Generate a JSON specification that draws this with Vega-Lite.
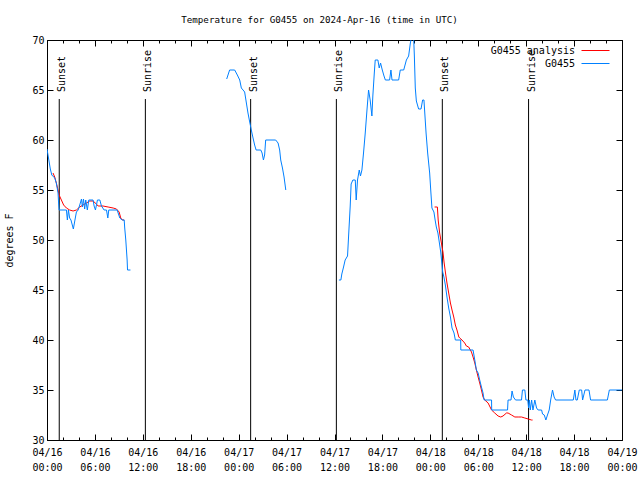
{
  "$schema": "https://vega.github.io/schema/vega-lite/v6.json",
  "width": 575,
  "height": 400,
  "autosize": {"type": "none"},
  "padding": {"left": 47, "top": 40, "right": 18, "bottom": 40},
  "background": "white",
  "title": {"text": "Temperature for G0455 on 2024-Apr-16 (time in UTC)", "font": "DejaVu Sans Mono", "fontSize": 9.2, "fontWeight": "normal", "color": "black", "anchor": "middle", "offset": 10, "dx": -15},
  "config": {
    "view": {"stroke": "black", "strokeWidth": 1},
    "axis": {"grid": false, "domain": false, "labelFont": "DejaVu Sans Mono", "labelFontSize": 10, "labelColor": "black", "tickColor": "black", "tickWidth": 1, "titleFont": "DejaVu Sans Mono", "titleFontSize": 10, "titleFontWeight": "normal", "titleColor": "black"}
  },
  "datasets": {
    "readings": [
      {"time": "2024-04-16T00:45:00Z", "temp": 56.7, "series": "G0455 analysis", "seg": "a"},
      {"time": "2024-04-16T00:58:00Z", "temp": 56.3, "series": "G0455 analysis", "seg": "a"},
      {"time": "2024-04-16T01:10:00Z", "temp": 55.7, "series": "G0455 analysis", "seg": "a"},
      {"time": "2024-04-16T01:23:00Z", "temp": 55.0, "series": "G0455 analysis", "seg": "a"},
      {"time": "2024-04-16T01:31:00Z", "temp": 54.5, "series": "G0455 analysis", "seg": "a"},
      {"time": "2024-04-16T01:48:00Z", "temp": 54.0, "series": "G0455 analysis", "seg": "a"},
      {"time": "2024-04-16T02:05:00Z", "temp": 53.5, "series": "G0455 analysis", "seg": "a"},
      {"time": "2024-04-16T02:26:00Z", "temp": 53.2, "series": "G0455 analysis", "seg": "a"},
      {"time": "2024-04-16T02:50:00Z", "temp": 53.0, "series": "G0455 analysis", "seg": "a"},
      {"time": "2024-04-16T03:16:00Z", "temp": 52.9, "series": "G0455 analysis", "seg": "a"},
      {"time": "2024-04-16T03:41:00Z", "temp": 53.0, "series": "G0455 analysis", "seg": "a"},
      {"time": "2024-04-16T04:06:00Z", "temp": 53.3, "series": "G0455 analysis", "seg": "a"},
      {"time": "2024-04-16T04:31:00Z", "temp": 53.5, "series": "G0455 analysis", "seg": "a"},
      {"time": "2024-04-16T04:56:00Z", "temp": 53.7, "series": "G0455 analysis", "seg": "a"},
      {"time": "2024-04-16T05:21:00Z", "temp": 53.9, "series": "G0455 analysis", "seg": "a"},
      {"time": "2024-04-16T05:46:00Z", "temp": 53.9, "series": "G0455 analysis", "seg": "a"},
      {"time": "2024-04-16T06:11:00Z", "temp": 53.6, "series": "G0455 analysis", "seg": "a"},
      {"time": "2024-04-16T06:24:00Z", "temp": 53.4, "series": "G0455 analysis", "seg": "a"},
      {"time": "2024-04-16T07:01:00Z", "temp": 53.4, "series": "G0455 analysis", "seg": "a"},
      {"time": "2024-04-16T07:39:00Z", "temp": 53.3, "series": "G0455 analysis", "seg": "a"},
      {"time": "2024-04-16T08:17:00Z", "temp": 53.2, "series": "G0455 analysis", "seg": "a"},
      {"time": "2024-04-16T08:42:00Z", "temp": 53.1, "series": "G0455 analysis", "seg": "a"},
      {"time": "2024-04-16T09:02:00Z", "temp": 52.8, "series": "G0455 analysis", "seg": "a"},
      {"time": "2024-04-16T09:14:00Z", "temp": 52.2, "series": "G0455 analysis", "seg": "a"},
      {"time": "2024-04-16T09:27:00Z", "temp": 52.0, "series": "G0455 analysis", "seg": "a"},
      {"time": "2024-04-16T09:40:00Z", "temp": 52.0, "series": "G0455 analysis", "seg": "a"},
      {"time": "2024-04-18T00:32:00Z", "temp": 53.3, "series": "G0455 analysis", "seg": "b"},
      {"time": "2024-04-18T00:53:00Z", "temp": 53.3, "series": "G0455 analysis", "seg": "b"},
      {"time": "2024-04-18T00:59:00Z", "temp": 52.0, "series": "G0455 analysis", "seg": "b"},
      {"time": "2024-04-18T01:10:00Z", "temp": 50.7, "series": "G0455 analysis", "seg": "b"},
      {"time": "2024-04-18T01:23:00Z", "temp": 49.7, "series": "G0455 analysis", "seg": "b"},
      {"time": "2024-04-18T01:35:00Z", "temp": 48.8, "series": "G0455 analysis", "seg": "b"},
      {"time": "2024-04-18T01:43:00Z", "temp": 47.8, "series": "G0455 analysis", "seg": "b"},
      {"time": "2024-04-18T01:53:00Z", "temp": 46.8, "series": "G0455 analysis", "seg": "b"},
      {"time": "2024-04-18T02:05:00Z", "temp": 45.7, "series": "G0455 analysis", "seg": "b"},
      {"time": "2024-04-18T02:18:00Z", "temp": 44.7, "series": "G0455 analysis", "seg": "b"},
      {"time": "2024-04-18T02:31:00Z", "temp": 43.7, "series": "G0455 analysis", "seg": "b"},
      {"time": "2024-04-18T02:43:00Z", "temp": 43.0, "series": "G0455 analysis", "seg": "b"},
      {"time": "2024-04-18T02:56:00Z", "temp": 42.3, "series": "G0455 analysis", "seg": "b"},
      {"time": "2024-04-18T03:08:00Z", "temp": 41.5, "series": "G0455 analysis", "seg": "b"},
      {"time": "2024-04-18T03:20:00Z", "temp": 41.0, "series": "G0455 analysis", "seg": "b"},
      {"time": "2024-04-18T03:34:00Z", "temp": 40.3, "series": "G0455 analysis", "seg": "b"},
      {"time": "2024-04-18T03:41:00Z", "temp": 40.2, "series": "G0455 analysis", "seg": "b"},
      {"time": "2024-04-18T03:58:00Z", "temp": 40.0, "series": "G0455 analysis", "seg": "b"},
      {"time": "2024-04-18T04:18:00Z", "temp": 39.7, "series": "G0455 analysis", "seg": "b"},
      {"time": "2024-04-18T04:31:00Z", "temp": 39.4, "series": "G0455 analysis", "seg": "b"},
      {"time": "2024-04-18T04:48:00Z", "temp": 39.3, "series": "G0455 analysis", "seg": "b"},
      {"time": "2024-04-18T05:09:00Z", "temp": 38.8, "series": "G0455 analysis", "seg": "b"},
      {"time": "2024-04-18T05:21:00Z", "temp": 38.3, "series": "G0455 analysis", "seg": "b"},
      {"time": "2024-04-18T05:34:00Z", "temp": 37.7, "series": "G0455 analysis", "seg": "b"},
      {"time": "2024-04-18T05:46:00Z", "temp": 37.0, "series": "G0455 analysis", "seg": "b"},
      {"time": "2024-04-18T05:59:00Z", "temp": 36.3, "series": "G0455 analysis", "seg": "b"},
      {"time": "2024-04-18T06:11:00Z", "temp": 35.7, "series": "G0455 analysis", "seg": "b"},
      {"time": "2024-04-18T06:24:00Z", "temp": 35.0, "series": "G0455 analysis", "seg": "b"},
      {"time": "2024-04-18T06:36:00Z", "temp": 34.3, "series": "G0455 analysis", "seg": "b"},
      {"time": "2024-04-18T06:49:00Z", "temp": 34.0, "series": "G0455 analysis", "seg": "b"},
      {"time": "2024-04-18T07:14:00Z", "temp": 33.7, "series": "G0455 analysis", "seg": "b"},
      {"time": "2024-04-18T07:40:00Z", "temp": 33.0, "series": "G0455 analysis", "seg": "b"},
      {"time": "2024-04-18T08:04:00Z", "temp": 32.7, "series": "G0455 analysis", "seg": "b"},
      {"time": "2024-04-18T08:29:00Z", "temp": 32.4, "series": "G0455 analysis", "seg": "b"},
      {"time": "2024-04-18T08:49:00Z", "temp": 32.3, "series": "G0455 analysis", "seg": "b"},
      {"time": "2024-04-18T09:06:00Z", "temp": 32.4, "series": "G0455 analysis", "seg": "b"},
      {"time": "2024-04-18T09:32:00Z", "temp": 32.7, "series": "G0455 analysis", "seg": "b"},
      {"time": "2024-04-18T09:44:00Z", "temp": 32.7, "series": "G0455 analysis", "seg": "b"},
      {"time": "2024-04-18T10:10:00Z", "temp": 32.5, "series": "G0455 analysis", "seg": "b"},
      {"time": "2024-04-18T10:35:00Z", "temp": 32.3, "series": "G0455 analysis", "seg": "b"},
      {"time": "2024-04-18T11:00:00Z", "temp": 32.3, "series": "G0455 analysis", "seg": "b"},
      {"time": "2024-04-18T11:25:00Z", "temp": 32.3, "series": "G0455 analysis", "seg": "b"},
      {"time": "2024-04-18T11:50:00Z", "temp": 32.2, "series": "G0455 analysis", "seg": "b"},
      {"time": "2024-04-18T12:15:00Z", "temp": 32.1, "series": "G0455 analysis", "seg": "b"},
      {"time": "2024-04-18T12:40:00Z", "temp": 32.0, "series": "G0455 analysis", "seg": "b"},
      {"time": "2024-04-18T12:48:00Z", "temp": 32.0, "series": "G0455 analysis", "seg": "b"},

      {"time": "2024-04-16T00:00:00Z", "temp": 59.1, "series": "G0455", "seg": "a"},
      {"time": "2024-04-16T00:25:00Z", "temp": 57.1, "series": "G0455", "seg": "a"},
      {"time": "2024-04-16T00:36:00Z", "temp": 56.5, "series": "G0455", "seg": "a"},
      {"time": "2024-04-16T00:58:00Z", "temp": 56.2, "series": "G0455", "seg": "a"},
      {"time": "2024-04-16T01:10:00Z", "temp": 55.7, "series": "G0455", "seg": "a"},
      {"time": "2024-04-16T01:23:00Z", "temp": 54.7, "series": "G0455", "seg": "a"},
      {"time": "2024-04-16T01:27:00Z", "temp": 53.7, "series": "G0455", "seg": "a"},
      {"time": "2024-04-16T01:31:00Z", "temp": 53.0, "series": "G0455", "seg": "a"},
      {"time": "2024-04-16T02:26:00Z", "temp": 53.0, "series": "G0455", "seg": "a"},
      {"time": "2024-04-16T02:33:00Z", "temp": 52.0, "series": "G0455", "seg": "a"},
      {"time": "2024-04-16T02:41:00Z", "temp": 53.0, "series": "G0455", "seg": "a"},
      {"time": "2024-04-16T02:50:00Z", "temp": 52.2, "series": "G0455", "seg": "a"},
      {"time": "2024-04-16T03:00:00Z", "temp": 52.0, "series": "G0455", "seg": "a"},
      {"time": "2024-04-16T03:18:00Z", "temp": 51.1, "series": "G0455", "seg": "a"},
      {"time": "2024-04-16T03:30:00Z", "temp": 52.0, "series": "G0455", "seg": "a"},
      {"time": "2024-04-16T03:41:00Z", "temp": 52.8, "series": "G0455", "seg": "a"},
      {"time": "2024-04-16T03:54:00Z", "temp": 53.0, "series": "G0455", "seg": "a"},
      {"time": "2024-04-16T04:06:00Z", "temp": 53.5, "series": "G0455", "seg": "a"},
      {"time": "2024-04-16T04:19:00Z", "temp": 54.1, "series": "G0455", "seg": "a"},
      {"time": "2024-04-16T04:26:00Z", "temp": 53.3, "series": "G0455", "seg": "a"},
      {"time": "2024-04-16T04:34:00Z", "temp": 54.1, "series": "G0455", "seg": "a"},
      {"time": "2024-04-16T04:43:00Z", "temp": 53.1, "series": "G0455", "seg": "a"},
      {"time": "2024-04-16T04:51:00Z", "temp": 54.0, "series": "G0455", "seg": "a"},
      {"time": "2024-04-16T05:03:00Z", "temp": 53.0, "series": "G0455", "seg": "a"},
      {"time": "2024-04-16T05:14:00Z", "temp": 54.0, "series": "G0455", "seg": "a"},
      {"time": "2024-04-16T05:46:00Z", "temp": 54.0, "series": "G0455", "seg": "a"},
      {"time": "2024-04-16T05:54:00Z", "temp": 53.4, "series": "G0455", "seg": "a"},
      {"time": "2024-04-16T06:04:00Z", "temp": 53.0, "series": "G0455", "seg": "a"},
      {"time": "2024-04-16T06:19:00Z", "temp": 54.0, "series": "G0455", "seg": "a"},
      {"time": "2024-04-16T06:37:00Z", "temp": 54.0, "series": "G0455", "seg": "a"},
      {"time": "2024-04-16T06:49:00Z", "temp": 53.4, "series": "G0455", "seg": "a"},
      {"time": "2024-04-16T07:09:00Z", "temp": 53.0, "series": "G0455", "seg": "a"},
      {"time": "2024-04-16T07:27:00Z", "temp": 53.0, "series": "G0455", "seg": "a"},
      {"time": "2024-04-16T07:37:00Z", "temp": 52.2, "series": "G0455", "seg": "a"},
      {"time": "2024-04-16T07:44:00Z", "temp": 53.0, "series": "G0455", "seg": "a"},
      {"time": "2024-04-16T08:47:00Z", "temp": 53.0, "series": "G0455", "seg": "a"},
      {"time": "2024-04-16T09:07:00Z", "temp": 52.2, "series": "G0455", "seg": "a"},
      {"time": "2024-04-16T09:24:00Z", "temp": 52.0, "series": "G0455", "seg": "a"},
      {"time": "2024-04-16T09:40:00Z", "temp": 52.0, "series": "G0455", "seg": "a"},
      {"time": "2024-04-16T09:44:00Z", "temp": 51.2, "series": "G0455", "seg": "a"},
      {"time": "2024-04-16T09:52:00Z", "temp": 50.0, "series": "G0455", "seg": "a"},
      {"time": "2024-04-16T10:02:00Z", "temp": 48.0, "series": "G0455", "seg": "a"},
      {"time": "2024-04-16T10:05:00Z", "temp": 47.0, "series": "G0455", "seg": "a"},
      {"time": "2024-04-16T10:27:00Z", "temp": 47.0, "series": "G0455", "seg": "a"},

      {"time": "2024-04-16T22:30:00Z", "temp": 66.1, "series": "G0455", "seg": "b"},
      {"time": "2024-04-16T22:52:00Z", "temp": 67.0, "series": "G0455", "seg": "b"},
      {"time": "2024-04-16T23:30:00Z", "temp": 67.0, "series": "G0455", "seg": "b"},
      {"time": "2024-04-16T23:50:00Z", "temp": 66.5, "series": "G0455", "seg": "b"},
      {"time": "2024-04-17T00:08:00Z", "temp": 66.0, "series": "G0455", "seg": "b"},
      {"time": "2024-04-17T00:20:00Z", "temp": 65.2, "series": "G0455", "seg": "b"},
      {"time": "2024-04-17T00:33:00Z", "temp": 65.0, "series": "G0455", "seg": "b"},
      {"time": "2024-04-17T00:45:00Z", "temp": 64.8, "series": "G0455", "seg": "b"},
      {"time": "2024-04-17T00:58:00Z", "temp": 63.7, "series": "G0455", "seg": "b"},
      {"time": "2024-04-17T01:10:00Z", "temp": 62.7, "series": "G0455", "seg": "b"},
      {"time": "2024-04-17T01:23:00Z", "temp": 61.8, "series": "G0455", "seg": "b"},
      {"time": "2024-04-17T01:35:00Z", "temp": 61.0, "series": "G0455", "seg": "b"},
      {"time": "2024-04-17T01:48:00Z", "temp": 60.2, "series": "G0455", "seg": "b"},
      {"time": "2024-04-17T02:00:00Z", "temp": 59.5, "series": "G0455", "seg": "b"},
      {"time": "2024-04-17T02:11:00Z", "temp": 59.0, "series": "G0455", "seg": "b"},
      {"time": "2024-04-17T02:46:00Z", "temp": 59.0, "series": "G0455", "seg": "b"},
      {"time": "2024-04-17T02:56:00Z", "temp": 58.7, "series": "G0455", "seg": "b"},
      {"time": "2024-04-17T03:06:00Z", "temp": 58.0, "series": "G0455", "seg": "b"},
      {"time": "2024-04-17T03:15:00Z", "temp": 58.5, "series": "G0455", "seg": "b"},
      {"time": "2024-04-17T03:23:00Z", "temp": 60.0, "series": "G0455", "seg": "b"},
      {"time": "2024-04-17T04:38:00Z", "temp": 60.0, "series": "G0455", "seg": "b"},
      {"time": "2024-04-17T04:56:00Z", "temp": 59.7, "series": "G0455", "seg": "b"},
      {"time": "2024-04-17T05:08:00Z", "temp": 59.0, "series": "G0455", "seg": "b"},
      {"time": "2024-04-17T05:16:00Z", "temp": 58.0, "series": "G0455", "seg": "b"},
      {"time": "2024-04-17T05:29:00Z", "temp": 57.2, "series": "G0455", "seg": "b"},
      {"time": "2024-04-17T05:41:00Z", "temp": 56.3, "series": "G0455", "seg": "b"},
      {"time": "2024-04-17T05:54:00Z", "temp": 55.0, "series": "G0455", "seg": "b"},

      {"time": "2024-04-17T12:33:00Z", "temp": 46.0, "series": "G0455", "seg": "c"},
      {"time": "2024-04-17T12:48:00Z", "temp": 46.0, "series": "G0455", "seg": "c"},
      {"time": "2024-04-17T12:55:00Z", "temp": 46.6, "series": "G0455", "seg": "c"},
      {"time": "2024-04-17T13:08:00Z", "temp": 47.3, "series": "G0455", "seg": "c"},
      {"time": "2024-04-17T13:20:00Z", "temp": 48.0, "series": "G0455", "seg": "c"},
      {"time": "2024-04-17T13:38:00Z", "temp": 48.4, "series": "G0455", "seg": "c"},
      {"time": "2024-04-17T13:46:00Z", "temp": 50.4, "series": "G0455", "seg": "c"},
      {"time": "2024-04-17T13:58:00Z", "temp": 53.4, "series": "G0455", "seg": "c"},
      {"time": "2024-04-17T14:05:00Z", "temp": 55.6, "series": "G0455", "seg": "c"},
      {"time": "2024-04-17T14:18:00Z", "temp": 56.0, "series": "G0455", "seg": "c"},
      {"time": "2024-04-17T14:36:00Z", "temp": 56.0, "series": "G0455", "seg": "c"},
      {"time": "2024-04-17T14:43:00Z", "temp": 54.0, "series": "G0455", "seg": "c"},
      {"time": "2024-04-17T14:53:00Z", "temp": 56.0, "series": "G0455", "seg": "c"},
      {"time": "2024-04-17T15:06:00Z", "temp": 57.0, "series": "G0455", "seg": "c"},
      {"time": "2024-04-17T15:15:00Z", "temp": 56.4, "series": "G0455", "seg": "c"},
      {"time": "2024-04-17T15:26:00Z", "temp": 57.0, "series": "G0455", "seg": "c"},
      {"time": "2024-04-17T15:38:00Z", "temp": 58.7, "series": "G0455", "seg": "c"},
      {"time": "2024-04-17T15:51:00Z", "temp": 60.7, "series": "G0455", "seg": "c"},
      {"time": "2024-04-17T16:04:00Z", "temp": 63.0, "series": "G0455", "seg": "c"},
      {"time": "2024-04-17T16:16:00Z", "temp": 65.0, "series": "G0455", "seg": "c"},
      {"time": "2024-04-17T16:28:00Z", "temp": 64.0, "series": "G0455", "seg": "c"},
      {"time": "2024-04-17T16:41:00Z", "temp": 62.4, "series": "G0455", "seg": "c"},
      {"time": "2024-04-17T16:48:00Z", "temp": 64.4, "series": "G0455", "seg": "c"},
      {"time": "2024-04-17T16:59:00Z", "temp": 66.7, "series": "G0455", "seg": "c"},
      {"time": "2024-04-17T17:06:00Z", "temp": 68.0, "series": "G0455", "seg": "c"},
      {"time": "2024-04-17T17:26:00Z", "temp": 68.0, "series": "G0455", "seg": "c"},
      {"time": "2024-04-17T17:36:00Z", "temp": 67.2, "series": "G0455", "seg": "c"},
      {"time": "2024-04-17T17:46:00Z", "temp": 67.7, "series": "G0455", "seg": "c"},
      {"time": "2024-04-17T17:59:00Z", "temp": 67.0, "series": "G0455", "seg": "c"},
      {"time": "2024-04-17T18:12:00Z", "temp": 66.4, "series": "G0455", "seg": "c"},
      {"time": "2024-04-17T18:22:00Z", "temp": 66.0, "series": "G0455", "seg": "c"},
      {"time": "2024-04-17T18:54:00Z", "temp": 66.0, "series": "G0455", "seg": "c"},
      {"time": "2024-04-17T19:04:00Z", "temp": 67.0, "series": "G0455", "seg": "c"},
      {"time": "2024-04-17T19:12:00Z", "temp": 66.0, "series": "G0455", "seg": "c"},
      {"time": "2024-04-17T20:02:00Z", "temp": 66.0, "series": "G0455", "seg": "c"},
      {"time": "2024-04-17T20:14:00Z", "temp": 67.0, "series": "G0455", "seg": "c"},
      {"time": "2024-04-17T20:40:00Z", "temp": 67.0, "series": "G0455", "seg": "c"},
      {"time": "2024-04-17T21:00:00Z", "temp": 68.0, "series": "G0455", "seg": "c"},
      {"time": "2024-04-17T21:17:00Z", "temp": 68.4, "series": "G0455", "seg": "c"},
      {"time": "2024-04-17T21:30:00Z", "temp": 69.7, "series": "G0455", "seg": "c"},
      {"time": "2024-04-17T21:42:00Z", "temp": 70.5, "series": "G0455", "seg": "c"},
      {"time": "2024-04-17T21:54:00Z", "temp": 70.5, "series": "G0455", "seg": "c"},
      {"time": "2024-04-17T22:00:00Z", "temp": 68.4, "series": "G0455", "seg": "c"},
      {"time": "2024-04-17T22:07:00Z", "temp": 65.2, "series": "G0455", "seg": "c"},
      {"time": "2024-04-17T22:15:00Z", "temp": 63.9, "series": "G0455", "seg": "c"},
      {"time": "2024-04-17T22:32:00Z", "temp": 63.1, "series": "G0455", "seg": "c"},
      {"time": "2024-04-17T22:50:00Z", "temp": 63.1, "series": "G0455", "seg": "c"},
      {"time": "2024-04-17T23:02:00Z", "temp": 64.0, "series": "G0455", "seg": "c"},
      {"time": "2024-04-17T23:12:00Z", "temp": 64.0, "series": "G0455", "seg": "c"},
      {"time": "2024-04-17T23:28:00Z", "temp": 60.7, "series": "G0455", "seg": "c"},
      {"time": "2024-04-17T23:40:00Z", "temp": 58.7, "series": "G0455", "seg": "c"},
      {"time": "2024-04-17T23:55:00Z", "temp": 56.7, "series": "G0455", "seg": "c"},
      {"time": "2024-04-18T00:03:00Z", "temp": 55.0, "series": "G0455", "seg": "c"},
      {"time": "2024-04-18T00:12:00Z", "temp": 53.2, "series": "G0455", "seg": "c"},
      {"time": "2024-04-18T00:27:00Z", "temp": 52.8, "series": "G0455", "seg": "c"},
      {"time": "2024-04-18T00:36:00Z", "temp": 52.0, "series": "G0455", "seg": "c"},
      {"time": "2024-04-18T00:45:00Z", "temp": 51.3, "series": "G0455", "seg": "c"},
      {"time": "2024-04-18T00:57:00Z", "temp": 50.7, "series": "G0455", "seg": "c"},
      {"time": "2024-04-18T01:07:00Z", "temp": 49.8, "series": "G0455", "seg": "c"},
      {"time": "2024-04-18T01:18:00Z", "temp": 48.8, "series": "G0455", "seg": "c"},
      {"time": "2024-04-18T01:33:00Z", "temp": 46.8, "series": "G0455", "seg": "c"},
      {"time": "2024-04-18T01:42:00Z", "temp": 46.3, "series": "G0455", "seg": "c"},
      {"time": "2024-04-18T01:53:00Z", "temp": 45.5, "series": "G0455", "seg": "c"},
      {"time": "2024-04-18T02:05:00Z", "temp": 44.3, "series": "G0455", "seg": "c"},
      {"time": "2024-04-18T02:18:00Z", "temp": 43.2, "series": "G0455", "seg": "c"},
      {"time": "2024-04-18T02:31:00Z", "temp": 42.3, "series": "G0455", "seg": "c"},
      {"time": "2024-04-18T02:43:00Z", "temp": 41.2, "series": "G0455", "seg": "c"},
      {"time": "2024-04-18T02:58:00Z", "temp": 40.7, "series": "G0455", "seg": "c"},
      {"time": "2024-04-18T03:08:00Z", "temp": 40.0, "series": "G0455", "seg": "c"},
      {"time": "2024-04-18T03:48:00Z", "temp": 40.0, "series": "G0455", "seg": "c"},
      {"time": "2024-04-18T03:49:00Z", "temp": 39.0, "series": "G0455", "seg": "c"},
      {"time": "2024-04-18T05:21:00Z", "temp": 39.0, "series": "G0455", "seg": "c"},
      {"time": "2024-04-18T05:34:00Z", "temp": 38.0, "series": "G0455", "seg": "c"},
      {"time": "2024-04-18T05:46:00Z", "temp": 37.0, "series": "G0455", "seg": "c"},
      {"time": "2024-04-18T05:59:00Z", "temp": 36.7, "series": "G0455", "seg": "c"},
      {"time": "2024-04-18T06:11:00Z", "temp": 36.0, "series": "G0455", "seg": "c"},
      {"time": "2024-04-18T06:24:00Z", "temp": 35.3, "series": "G0455", "seg": "c"},
      {"time": "2024-04-18T06:36:00Z", "temp": 34.7, "series": "G0455", "seg": "c"},
      {"time": "2024-04-18T06:44:00Z", "temp": 34.0, "series": "G0455", "seg": "c"},
      {"time": "2024-04-18T07:40:00Z", "temp": 34.0, "series": "G0455", "seg": "c"},
      {"time": "2024-04-18T07:41:00Z", "temp": 33.0, "series": "G0455", "seg": "c"},
      {"time": "2024-04-18T09:40:00Z", "temp": 33.0, "series": "G0455", "seg": "c"},
      {"time": "2024-04-18T09:44:00Z", "temp": 34.0, "series": "G0455", "seg": "c"},
      {"time": "2024-04-18T10:06:00Z", "temp": 34.0, "series": "G0455", "seg": "c"},
      {"time": "2024-04-18T10:14:00Z", "temp": 34.9, "series": "G0455", "seg": "c"},
      {"time": "2024-04-18T10:24:00Z", "temp": 34.3, "series": "G0455", "seg": "c"},
      {"time": "2024-04-18T10:40:00Z", "temp": 34.0, "series": "G0455", "seg": "c"},
      {"time": "2024-04-18T11:25:00Z", "temp": 34.0, "series": "G0455", "seg": "c"},
      {"time": "2024-04-18T11:32:00Z", "temp": 35.0, "series": "G0455", "seg": "c"},
      {"time": "2024-04-18T11:50:00Z", "temp": 35.0, "series": "G0455", "seg": "c"},
      {"time": "2024-04-18T11:58:00Z", "temp": 34.0, "series": "G0455", "seg": "c"},
      {"time": "2024-04-18T12:12:00Z", "temp": 34.0, "series": "G0455", "seg": "c"},
      {"time": "2024-04-18T12:18:00Z", "temp": 33.2, "series": "G0455", "seg": "c"},
      {"time": "2024-04-18T12:24:00Z", "temp": 34.0, "series": "G0455", "seg": "c"},
      {"time": "2024-04-18T12:31:00Z", "temp": 33.0, "series": "G0455", "seg": "c"},
      {"time": "2024-04-18T12:41:00Z", "temp": 34.0, "series": "G0455", "seg": "c"},
      {"time": "2024-04-18T12:51:00Z", "temp": 33.0, "series": "G0455", "seg": "c"},
      {"time": "2024-04-18T13:05:00Z", "temp": 34.0, "series": "G0455", "seg": "c"},
      {"time": "2024-04-18T13:18:00Z", "temp": 33.2, "series": "G0455", "seg": "c"},
      {"time": "2024-04-18T13:30:00Z", "temp": 33.0, "series": "G0455", "seg": "c"},
      {"time": "2024-04-18T13:56:00Z", "temp": 33.0, "series": "G0455", "seg": "c"},
      {"time": "2024-04-18T14:03:00Z", "temp": 32.6, "series": "G0455", "seg": "c"},
      {"time": "2024-04-18T14:16:00Z", "temp": 32.5, "series": "G0455", "seg": "c"},
      {"time": "2024-04-18T14:28:00Z", "temp": 32.0, "series": "G0455", "seg": "c"},
      {"time": "2024-04-18T14:40:00Z", "temp": 32.5, "series": "G0455", "seg": "c"},
      {"time": "2024-04-18T14:53:00Z", "temp": 33.0, "series": "G0455", "seg": "c"},
      {"time": "2024-04-18T15:04:00Z", "temp": 34.0, "series": "G0455", "seg": "c"},
      {"time": "2024-04-18T15:18:00Z", "temp": 35.0, "series": "G0455", "seg": "c"},
      {"time": "2024-04-18T15:30:00Z", "temp": 34.3, "series": "G0455", "seg": "c"},
      {"time": "2024-04-18T15:41:00Z", "temp": 34.0, "series": "G0455", "seg": "c"},
      {"time": "2024-04-18T17:54:00Z", "temp": 34.0, "series": "G0455", "seg": "c"},
      {"time": "2024-04-18T18:06:00Z", "temp": 35.0, "series": "G0455", "seg": "c"},
      {"time": "2024-04-18T18:14:00Z", "temp": 34.0, "series": "G0455", "seg": "c"},
      {"time": "2024-04-18T18:24:00Z", "temp": 34.0, "series": "G0455", "seg": "c"},
      {"time": "2024-04-18T18:39:00Z", "temp": 35.0, "series": "G0455", "seg": "c"},
      {"time": "2024-04-18T18:57:00Z", "temp": 35.0, "series": "G0455", "seg": "c"},
      {"time": "2024-04-18T19:04:00Z", "temp": 34.0, "series": "G0455", "seg": "c"},
      {"time": "2024-04-18T19:22:00Z", "temp": 35.0, "series": "G0455", "seg": "c"},
      {"time": "2024-04-18T19:52:00Z", "temp": 35.0, "series": "G0455", "seg": "c"},
      {"time": "2024-04-18T20:04:00Z", "temp": 34.0, "series": "G0455", "seg": "c"},
      {"time": "2024-04-18T22:10:00Z", "temp": 34.0, "series": "G0455", "seg": "c"},
      {"time": "2024-04-18T22:25:00Z", "temp": 35.0, "series": "G0455", "seg": "c"},
      {"time": "2024-04-19T00:00:00Z", "temp": 35.0, "series": "G0455", "seg": "c"}
    ],
    "events": [
      {"time": "2024-04-16T01:32:00Z", "event": "Sunset"},
      {"time": "2024-04-16T12:19:00Z", "event": "Sunrise"},
      {"time": "2024-04-17T01:30:00Z", "event": "Sunset"},
      {"time": "2024-04-17T12:14:00Z", "event": "Sunrise"},
      {"time": "2024-04-18T01:30:00Z", "event": "Sunset"},
      {"time": "2024-04-18T12:18:00Z", "event": "Sunrise"}
    ]
  },
  "layer": [
    {
      "data": {"name": "events"},
      "mark": {"type": "rule", "color": "black", "strokeWidth": 1},
      "encoding": {
        "x": {"field": "time", "type": "temporal",
          "scale": {"type": "utc", "domain": [1713225600000, 1713484800000]},
          "axis": {"orient": "bottom", "title": null, "tickSize": -3, "labels": false,
            "values": [1713225600000, 1713232800000, 1713240000000, 1713247200000, 1713254400000, 1713261600000, 1713268800000, 1713276000000, 1713283200000, 1713290400000, 1713297600000, 1713304800000, 1713312000000, 1713319200000, 1713326400000, 1713333600000, 1713340800000, 1713348000000, 1713355200000, 1713362400000, 1713369600000, 1713376800000, 1713384000000, 1713391200000, 1713398400000, 1713405600000, 1713412800000, 1713420000000, 1713427200000, 1713434400000, 1713441600000, 1713448800000, 1713456000000, 1713463200000, 1713470400000, 1713477600000, 1713484800000]}},
        "y": {"datum": 30, "type": "quantitative", "scale": {"domain": [30, 70], "nice": false, "zero": false},
          "axis": {"orient": "right", "title": null, "values": [30, 35, 40, 45, 50, 55, 60, 65, 70], "tickSize": -6, "labels": false}},
        "y2": {"datum": 64.1}
      }
    },
    {
      "data": {"name": "events"},
      "mark": {"type": "text", "angle": 270, "align": "left", "baseline": "middle", "font": "DejaVu Sans Mono", "fontSize": 10, "dy": 3, "color": "black"},
      "encoding": {
        "x": {"field": "time", "type": "temporal", "scale": {"type": "utc"},
          "axis": {"orient": "top", "title": null, "tickSize": -3, "labels": false,
            "values": [1713225600000, 1713232800000, 1713240000000, 1713247200000, 1713254400000, 1713261600000, 1713268800000, 1713276000000, 1713283200000, 1713290400000, 1713297600000, 1713304800000, 1713312000000, 1713319200000, 1713326400000, 1713333600000, 1713340800000, 1713348000000, 1713355200000, 1713362400000, 1713369600000, 1713376800000, 1713384000000, 1713391200000, 1713398400000, 1713405600000, 1713412800000, 1713420000000, 1713427200000, 1713434400000, 1713441600000, 1713448800000, 1713456000000, 1713463200000, 1713470400000, 1713477600000, 1713484800000]}},
        "y": {"datum": 64.8, "type": "quantitative", "axis": null},
        "text": {"field": "event"}
      }
    },
    {
      "data": {"name": "readings"},
      "transform": [{"filter": "datum.series == 'G0455 analysis'"}],
      "mark": {"type": "line", "strokeWidth": 1, "clip": true},
      "encoding": {
        "x": {"field": "time", "type": "temporal", "scale": {"type": "utc"},
          "axis": {"orient": "bottom", "title": null, "tickSize": -6, "labelPadding": 13, "labelLineHeight": 15, "labelFlush": false, "labelOverlap": false,
            "values": [1713225600000, 1713247200000, 1713268800000, 1713290400000, 1713312000000, 1713333600000, 1713355200000, 1713376800000, 1713398400000, 1713420000000, 1713441600000, 1713463200000, 1713484800000],
            "labelExpr": "[utcFormat(datum.value, '%m/%d'), utcFormat(datum.value, '%H:%M')]"}},
        "y": {"field": "temp", "type": "quantitative",
          "axis": {"orient": "left", "title": "degrees F", "values": [30, 35, 40, 45, 50, 55, 60, 65, 70], "tickSize": -6, "labelPadding": 9, "titlePadding": 17}},
        "color": {"field": "series", "type": "nominal",
          "scale": {"domain": ["G0455 analysis", "G0455"], "range": ["#ff0000", "#0080ff"]},
          "legend": {"orient": "none", "legendX": 541, "legendY": 3, "title": null, "padding": 0, "symbolType": "M-2,0H2", "symbolSize": 196, "symbolStrokeWidth": 1, "labelAlign": "right", "labelOffset": -28, "labelFont": "DejaVu Sans Mono", "labelFontSize": 10, "labelColor": "black", "rowPadding": 0}},
        "detail": {"field": "seg"}
      }
    },
    {
      "data": {"name": "readings"},
      "transform": [{"filter": "datum.series == 'G0455'"}],
      "mark": {"type": "line", "strokeWidth": 1, "clip": true},
      "encoding": {
        "x": {"field": "time", "type": "temporal", "scale": {"type": "utc"},
          "axis": {"orient": "top", "title": null, "tickSize": -6, "labels": false,
            "values": [1713225600000, 1713247200000, 1713268800000, 1713290400000, 1713312000000, 1713333600000, 1713355200000, 1713376800000, 1713398400000, 1713420000000, 1713441600000, 1713463200000, 1713484800000]}},
        "y": {"field": "temp", "type": "quantitative", "axis": null},
        "color": {"field": "series", "type": "nominal"},
        "detail": {"field": "seg"}
      }
    }
  ],
  "resolve": {"axis": {"x": "independent", "y": "independent"}}
}
